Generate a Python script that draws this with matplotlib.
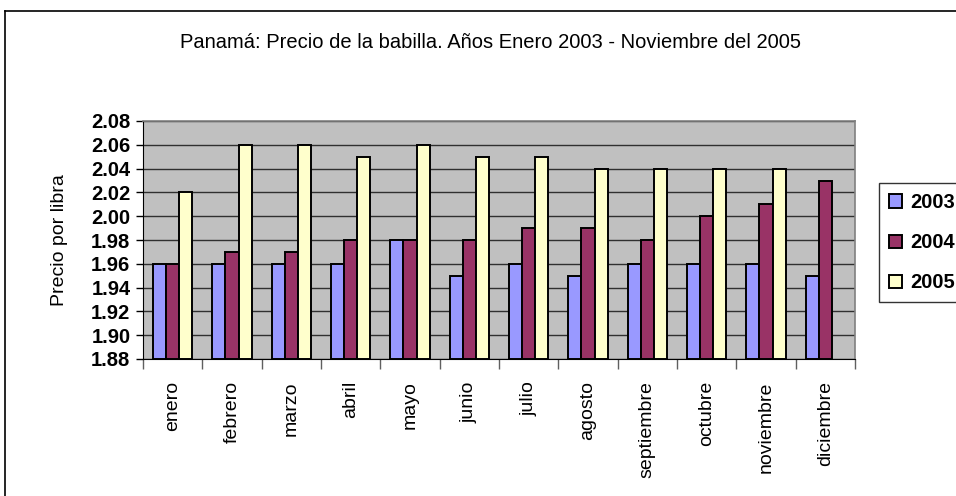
import matplotlib
matplotlib.use("Agg")
import matplotlib.pyplot as plt
import numpy as np
from matplotlib.lines import Line2D

months = ["enero", "febrero", "marzo", "abril", "mayo", "junio", "julio",
          "agosto", "septiembre", "octubre", "noviembre", "diciembre"]
y2003 = [1.96, 1.96, 1.96, 1.96, 1.98, 1.95, 1.96, 1.95, 1.96, 1.96, 1.96, 1.95]
y2004 = [1.96, 1.97, 1.97, 1.98, 1.98, 1.98, 1.99, 1.99, 1.98, 2.00, 2.01, 2.03]
y2005 = [2.02, 2.06, 2.06, 2.05, 2.06, 2.05, 2.05, 2.04, 2.04, 2.04, 2.04, np.nan]
series_labels = ["2003", "2004", "2005"]
colors = ["#9999FF", "#993366", "#FFFFCC"]
yticks = [1.88, 1.90, 1.92, 1.94, 1.96, 1.98, 2.00, 2.02, 2.04, 2.06, 2.08]

plt.rcParams['font.family'] = ['Liberation Sans', 'DejaVu Sans']

W, H = 956, 496
fig = plt.figure(figsize=(W / 100, H / 100), dpi=100)
ax = fig.add_axes([143 / W, 1 - 359 / H, (855 - 143) / W, (359 - 121) / H])

x = np.arange(len(months))
bw = 0.22
base = 1.88
for i, (vals, c, lab) in enumerate(zip([y2003, y2004, y2005], colors, series_labels)):
    v = np.array(vals, dtype=float)
    ax.bar(x + (i - 1) * bw, v - base, bottom=base, width=bw, color=c,
           edgecolor="black", linewidth=1.4, label=lab, zorder=3)

ax.set_xlim(-0.5, len(months) - 0.5)
ax.set_ylim(1.88, 2.08)
ax.set_facecolor("#C0C0C0")
ax.set_yticks(yticks)
ax.set_yticklabels([f"{t:.2f}" for t in yticks], fontsize=14.5, fontweight="bold")
ax.yaxis.grid(True, color="#303030", linewidth=1.0, zorder=1)
ax.set_axisbelow(True)

ax.set_xticks(x)
ax.set_xticklabels(months, rotation=90, fontsize=14)
ax.tick_params(axis="x", which="major", length=0, pad=16)
ax.set_xticks(np.arange(-0.5, len(months) + 0.5, 1), minor=True)
ax.tick_params(axis="x", which="minor", length=7, width=1, color="#606060", direction="out")
ax.tick_params(axis="y", length=5, width=1, direction="out", pad=4)

for s in ["top", "right"]:
    ax.spines[s].set_color("#808080")
    ax.spines[s].set_linewidth(1.2)
ax.spines["left"].set_color("black")
ax.spines["bottom"].set_color("black")

ax.set_ylabel("Precio por libra", fontsize=14, fontweight="medium", labelpad=17)

fig.text(490 / W, 1 - 42 / H, "Panamá: Precio de la babilla. Años Enero 2003 - Noviembre del 2005",
         ha="center", va="center", fontsize=14.5)

leg = fig.legend(loc="upper left", bbox_to_anchor=(879 / W, 1 - 183 / H),
                 borderaxespad=0, frameon=True, fancybox=False, edgecolor="black",
                 prop={"weight": "bold", "size": 14.5}, handlelength=0.62,
                 handleheight=0.62, labelspacing=1.05, borderpad=0.5, handletextpad=0.45)
leg.get_frame().set_linewidth(1.0)

# outer chart border
fig.add_artist(Line2D([5 / W, 5 / W], [0, 1 - 11 / H], color="black", linewidth=1.2))
fig.add_artist(Line2D([5 / W, 1], [1 - 11 / H, 1 - 11 / H], color="black", linewidth=1.2))

fig.savefig("out.png", dpi=100)
